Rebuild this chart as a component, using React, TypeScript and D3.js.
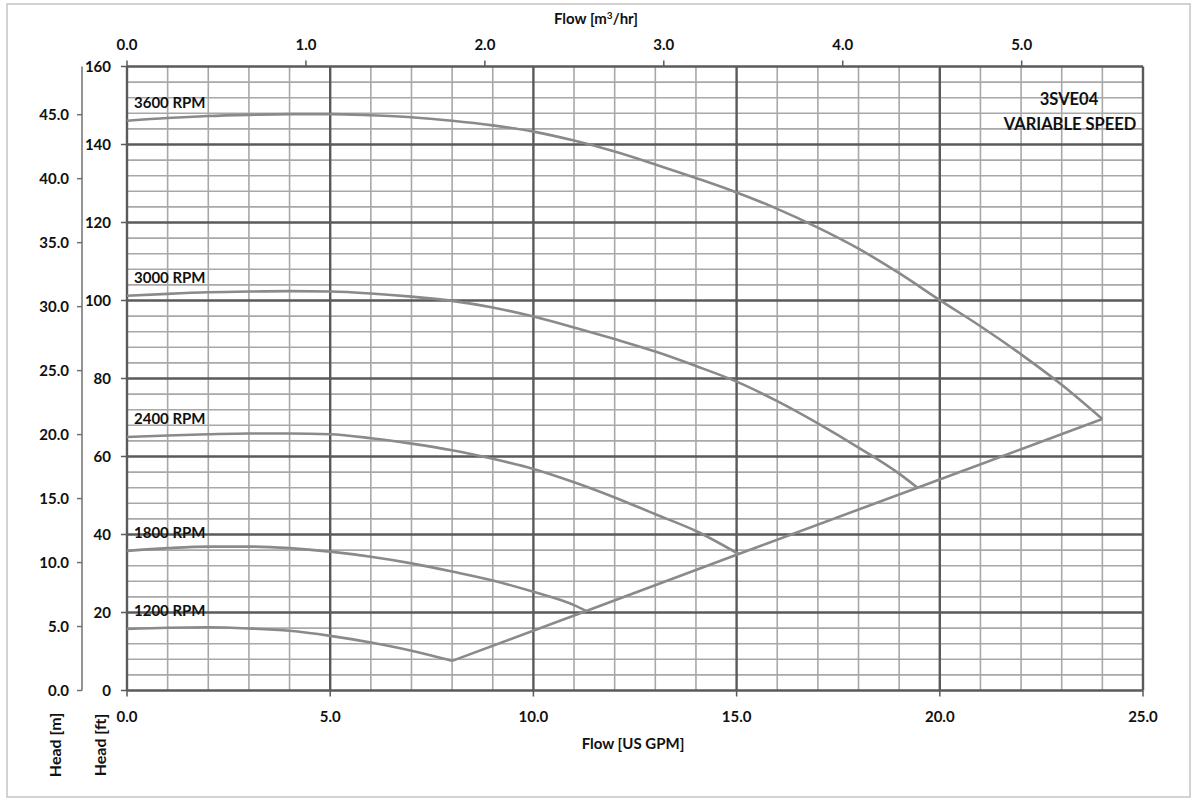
import React from "react";
import * as d3 from "d3";

// ---- data ----
const flow3600 = [0,1,2,3,4,5,6,7,8,9,10,11,12,13,14,15,16,17,18,19,20,21,22,23,24];
const head3600 = [146.1,146.8,147.3,147.6,147.8,147.8,147.5,147.0,146.1,144.9,143.3,141.0,138.2,134.9,131.4,127.7,123.5,118.7,113.3,107.0,100.1,93.4,86.2,78.4,69.6];
const flow3000 = [0,1,2,3,4,5,6,7,8,9,10,11,12,13,14,15,16,17,18,19,19.45];
const head3000 = [101.2,101.7,102.1,102.3,102.4,102.3,101.8,101.0,99.9,98.2,95.9,93.1,90.1,86.9,83.2,79.2,74.2,68.5,62.3,55.6,52.0];
const flow2400 = [0,1,2,3,4,5,6,7,8,9,10,11,12,13,14,15.05];
const head2400 = [65.0,65.4,65.7,65.9,65.9,65.7,64.7,63.3,61.6,59.4,56.8,53.4,49.5,45.2,40.9,35.0];
const flow1800 = [0,1,2,3,4,5,6,7,8,9,10,11,11.3];
const head1800 = [35.8,36.5,36.9,36.9,36.5,35.6,34.3,32.6,30.5,28.2,25.3,21.9,20.4];
const flow1200 = [0,1,2,3,4,5,6,7,8];
const head1200 = [15.8,16.1,16.2,15.9,15.3,14.0,12.3,10.2,7.6];
const flowLimit = [8,11.3,15.05,19.45,24];
const headLimit = [7.6,20.4,35.0,52.0,69.6];

const speedLabels = ["3600 RPM","3000 RPM","2400 RPM","1800 RPM","1200 RPM"];
const gpmTicks = [0,5,10,15,20,25];
const m3hTicks = [0,1,2,3,4,5];
const ftTicks = [0,20,40,60,80,100,120,140,160];
const mTicks = [0,5,10,15,20,25,30,35,40,45];

const GPM_PER_M3H = 4.4029;
const FT_PER_M = 3.28084;

const font = "Lato, 'Open Sans', sans-serif";

export default function App() {
  const left = 127, right = 1143, top = 66.5, bottom = 690.5;
  const x = d3.scaleLinear().domain([0, 25]).range([left, right]);
  const y = d3.scaleLinear().domain([0, 160]).range([bottom, top]);
  const xm = d3.scaleLinear().domain([0, 25 / GPM_PER_M3H]).range([left, right]);
  const ym = d3.scaleLinear().domain([0, 160 / FT_PER_M]).range([bottom, top]);

  const minorX = d3.range(0, 26, 1).filter((v) => v % 5 !== 0);
  const minorY = d3.range(0, 161, 4).filter((v) => v % 20 !== 0);

  const series = [
    { f: flow3600, h: head3600 },
    { f: flow3000, h: head3000 },
    { f: flow2400, h: head2400 },
    { f: flow1800, h: head1800 },
    { f: flow1200, h: head1200 },
  ];
  const line = d3
    .line<[number, number]>()
    .x((d) => x(d[0]))
    .y((d) => y(d[1]))
    .curve(d3.curveMonotoneX);
  const straight = d3
    .line<[number, number]>()
    .x((d) => x(d[0]))
    .y((d) => y(d[1]));

  const minorC = "#a8a8a8";
  const majorC = "#5a5a5a";
  const curveC = "#8a8a8a";
  const textC = "#111";
  const fs = 15;

  return (
    <svg
      width={1196}
      height={800}
      style={{ position: "absolute", left: 0, top: 0, background: "#fff" }}
      fontFamily={font}
      fontWeight="bold"
    >
      <rect x={7} y={4} width={1183} height={793} fill="#fff" stroke="#c4c4c4" strokeWidth={1.5} />

      {/* minor grid */}
      {minorX.map((v) => (
        <line key={"mx" + v} x1={x(v)} x2={x(v)} y1={top} y2={bottom} stroke={minorC} strokeWidth={1.6} />
      ))}
      {minorY.map((v) => (
        <line key={"my" + v} x1={left} x2={right} y1={y(v)} y2={y(v)} stroke={minorC} strokeWidth={1.6} />
      ))}
      {/* major grid */}
      {gpmTicks.map((v) => (
        <line key={"Mx" + v} x1={x(v)} x2={x(v)} y1={top} y2={bottom} stroke={majorC} strokeWidth={2.4} />
      ))}
      {ftTicks.map((v) => (
        <line key={"My" + v} x1={left} x2={right} y1={y(v)} y2={y(v)} stroke={majorC} strokeWidth={2.4} />
      ))}

      {/* bottom axis ticks and labels */}
      {gpmTicks.map((v) => (
        <g key={"bt" + v}>
          <line x1={x(v)} x2={x(v)} y1={bottom} y2={bottom + 6} stroke={majorC} strokeWidth={1.5} />
          <text x={x(v)} y={722} textAnchor="middle" fontSize={fs} fill={textC}>
            {v.toFixed(1)}
          </text>
        </g>
      ))}
      <text x={633} y={749} textAnchor="middle" fontSize={fs} fill={textC}>
        Flow [US GPM]
      </text>

      {/* top axis */}
      {m3hTicks.map((v) => (
        <g key={"tt" + v}>
          <line x1={xm(v)} x2={xm(v)} y1={top} y2={top - 6} stroke={majorC} strokeWidth={1.5} />
          <text x={xm(v)} y={50} textAnchor="middle" fontSize={fs} fill={textC}>
            {v.toFixed(1)}
          </text>
        </g>
      ))}
      <text x={596} y={24} textAnchor="middle" fontSize={fs} fill={textC}>
        Flow [m<tspan fontSize={10} dy={-5}>3</tspan>
        <tspan dy={5}>/hr]</tspan>
      </text>

      {/* ft axis */}
      {ftTicks.map((v) => (
        <g key={"ft" + v}>
          <line x1={left - 6} x2={left} y1={y(v)} y2={y(v)} stroke={majorC} strokeWidth={1.5} />
          <text x={111} y={y(v) + 5} textAnchor="end" fontSize={fs} fill={textC}>
            {v}
          </text>
        </g>
      ))}

      {/* m axis */}
      <line x1={82} x2={82} y1={top} y2={bottom} stroke="#707070" strokeWidth={1.5} />
      {mTicks.map((v) => (
        <g key={"m" + v}>
          <line x1={77} x2={82} y1={ym(v)} y2={ym(v)} stroke="#707070" strokeWidth={1.5} />
          <text x={69} y={ym(v) + 5} textAnchor="end" fontSize={fs} fill={textC}>
            {v.toFixed(1)}
          </text>
        </g>
      ))}

      <text transform="translate(61,745) rotate(-90)" textAnchor="middle" fontSize={16} fill={textC}>
        Head [m]
      </text>
      <text transform="translate(106,745) rotate(-90)" textAnchor="middle" fontSize={16} fill={textC}>
        Head [ft]
      </text>

      {/* curves */}
      {series.map((s, i) => (
        <path
          key={"c" + i}
          d={line(s.f.map((f, j) => [f, s.h[j]] as [number, number])) || ""}
          fill="none"
          stroke={curveC}
          strokeWidth={2.6}
        />
      ))}
      <path
        d={straight(flowLimit.map((f, j) => [f, headLimit[j]] as [number, number])) || ""}
        fill="none"
        stroke={curveC}
        strokeWidth={2.6}
      />

      {series.map((s, i) => (
        <text key={"l" + i} x={134} y={y(s.h[0]) - 13} fontSize={fs} fill={textC}>
          {speedLabels[i]}
        </text>
      ))}

      <text x={1069} y={105} textAnchor="middle" fontSize={16.5} fill={textC}>
        3SVE04
      </text>
      <text x={1070} y={130} textAnchor="middle" fontSize={16.5} fill={textC}>
        VARIABLE SPEED
      </text>
    </svg>
  );
}
